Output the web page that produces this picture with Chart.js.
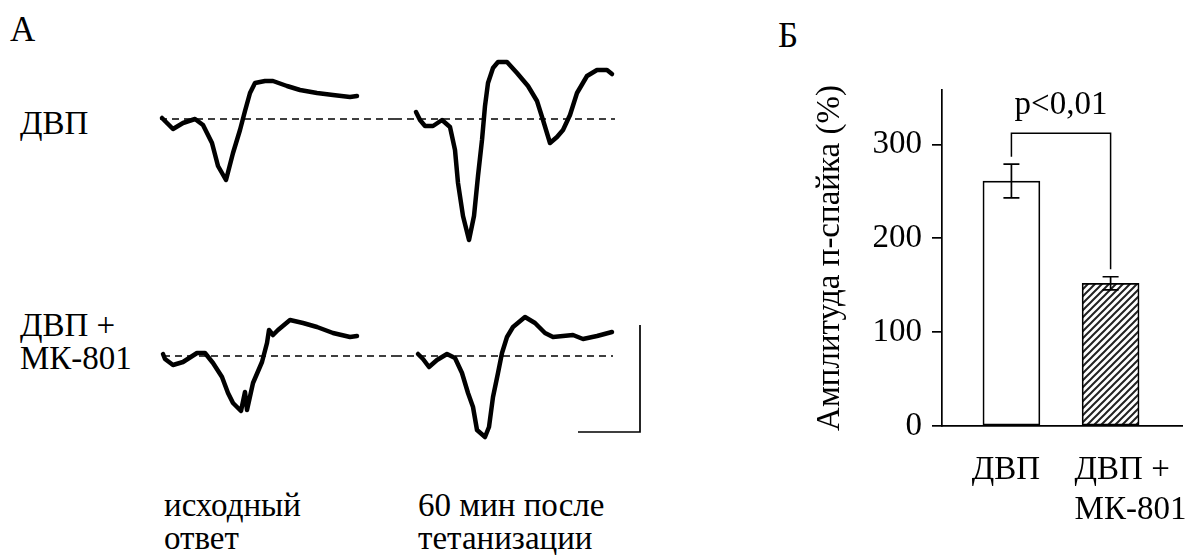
<!DOCTYPE html>
<html>
<head>
<meta charset="utf-8">
<script src="https://cdn.jsdelivr.net/npm/chart.js@4.4.1/dist/chart.umd.min.js"></script>
<style>
  body { margin: 0; width: 1194px; height: 555px; background: #fff; position: relative; overflow: hidden; font-family: "Liberation Serif", Tinos, "Times New Roman", "DejaVu Serif", "Noto Serif", serif; color: #000; }
  canvas { position: absolute; }
  .lbl { position: absolute; font-size: 33px; line-height: 33px; white-space: nowrap; }
  .panel { font-size: 35px; line-height: 35px; }
</style>
</head>
<body>
<div class="lbl panel" style="left:10px; top:12px">А</div>
<div class="lbl panel" style="left:778px; top:18px">Б</div>
<div class="lbl" style="left:20px; top:107px">ДВП</div>
<div class="lbl" style="left:20px; top:309px">ДВП +<br>МК-801</div>
<div class="lbl" style="left:164px; top:489px">исходный<br>ответ</div>
<div class="lbl" style="left:418px; top:489px">60 мин после<br>тетанизации</div>

<canvas id="trace1" width="245" height="220" style="left:150px; top:40px"></canvas>
<canvas id="trace2" width="260" height="220" style="left:395px; top:40px"></canvas>
<canvas id="trace3" width="245" height="220" style="left:150px; top:290px"></canvas>
<canvas id="trace4" width="260" height="220" style="left:395px; top:290px"></canvas>
<canvas id="bars" width="424" height="555" style="left:770px; top:0px"></canvas>

<script>
// --- panel A: field potentials (time in samples, amplitude relative to baseline) ---
const trace1Time = [12, 23, 33, 45, 53, 62, 68, 76, 83, 90, 95, 100, 105, 115, 123, 137, 150, 167, 183, 200, 207];
const trace1Amp  = [1, -10, -4, 0, -6, -24, -47, -61, -34, -11, 8, 26, 36, 38, 38, 33, 29, 26, 24, 22, 23];

const trace2Time = [21, 25, 30, 38, 47, 55, 60, 63, 68, 74, 79, 83, 87, 90, 93, 98, 103, 112, 122, 133, 142, 148, 155, 162, 168, 175, 182, 192, 202, 212, 217];
const trace2Amp  = [7, -1, -7, -7, -1, -8, -31, -64, -97, -121, -97, -57, -21, 13, 36, 51, 57, 57, 46, 33, 18, -1, -24, -18, -11, 4, 26, 43, 49, 49, 45];

const trace3Time = [13, 15, 23, 33, 47, 55, 63, 72, 78, 83, 91, 95, 97, 103, 112, 117, 119, 123, 128, 140, 153, 167, 183, 200, 207];
const trace3Amp  = [2, -3, -9, -6, 3, 3, -7, -21, -37, -47, -55, -36, -54, -27, -6, 13, 26, 21, 26, 36, 33, 29, 23, 19, 20];

const trace4Time = [23, 28, 34, 42, 52, 60, 67, 73, 78, 82, 90, 94, 98, 103, 107, 112, 118, 130, 140, 150, 158, 178, 188, 202, 217];
const trace4Amp  = [2, -3, -11, -4, 2, -2, -17, -37, -51, -74, -81, -71, -41, -17, 3, 19, 29, 39, 33, 23, 19, 21, 17, 20, 24];

// extent of the dashed baseline under each trace
const baseline1 = [10, 245];
const baseline2 = [0, 220];
const baseline3 = [13, 245];
const baseline4 = [0, 218];

// calibration bar next to the last trace
const scaleBarTime = [183, 245, 245];
const scaleBarAmp  = [-76, -76, 31];

// --- panel Б: population spike amplitude ---
const barCategories = ['ДВП', ['ДВП +', 'МК-801']];
const barMeans = [261, 152];
const barErrors = [18, 7];
const yTickValues = [0, 100, 200, 300];
const bracketLevels = [287, 312, 312, 167];
const significance = 'p<0,01';

const FONT = '"Liberation Serif", Tinos, "Times New Roman", "DejaVu Serif", "Noto Serif", serif';

function traceChart(id, time, amp, base, yMax, yMin, extra) {
  const canvas = document.getElementById(id);
  const datasets = [
    {
      data: base.map(t => ({ x: t, y: 0 })),
      borderColor: '#000', borderWidth: 1.3, borderDash: [7, 5], pointRadius: 0
    },
    {
      data: time.map((t, i) => ({ x: t, y: amp[i] })),
      borderColor: '#000', borderWidth: 4.5, pointRadius: 0,
      borderJoinStyle: 'round', borderCapStyle: 'round'
    }
  ];
  if (extra) datasets.push(extra);
  return new Chart(canvas, {
    type: 'line',
    data: { datasets },
    options: {
      responsive: false, animation: false, events: [],
      layout: { padding: 0 },
      plugins: { legend: { display: false }, tooltip: { enabled: false } },
      scales: {
        x: { type: 'linear', display: false, min: 0, max: canvas.width },
        y: { type: 'linear', display: false, min: yMin, max: yMax }
      }
    }
  });
}

traceChart('trace1', trace1Time, trace1Amp, baseline1, 79, -141);
traceChart('trace2', trace2Time, trace2Amp, baseline2, 79, -141);
traceChart('trace3', trace3Time, trace3Amp, baseline3, 66, -154);
traceChart('trace4', trace4Time, trace4Amp, baseline4, 66, -154, {
  data: scaleBarTime.map((t, i) => ({ x: t, y: scaleBarAmp[i] })),
  borderColor: '#000', borderWidth: 1.7, pointRadius: 0
});

// diagonal hatch for the second bar
const hatch = (() => {
  const c = document.createElement('canvas');
  c.width = 7; c.height = 7;
  const g = c.getContext('2d');
  g.fillStyle = '#fff';
  g.fillRect(0, 0, 7, 7);
  g.strokeStyle = '#222';
  g.lineWidth = 2;
  g.beginPath();
  g.moveTo(-1, 8); g.lineTo(8, -1);
  g.moveTo(-2, 2); g.lineTo(2, -2);
  g.moveTo(5, 9); g.lineTo(9, 5);
  g.stroke();
  return g.createPattern(c, 'repeat');
})();

// error bars and the significance label
const errorBars = {
  id: 'errorBars',
  afterDatasetsDraw(chart) {
    const { ctx, scales: { x, y } } = chart;
    ctx.save();
    ctx.strokeStyle = '#000';
    ctx.lineWidth = 1.7;
    barMeans.forEach((m, i) => {
      const px = x.getPixelForValue(i + 1);
      const top = y.getPixelForValue(m + barErrors[i]);
      const bot = y.getPixelForValue(m - barErrors[i]);
      ctx.beginPath();
      ctx.moveTo(px, top); ctx.lineTo(px, bot);
      ctx.moveTo(px - 8, top); ctx.lineTo(px + 8, top);
      ctx.moveTo(px - 8, bot); ctx.lineTo(px + 8, bot);
      ctx.stroke();
    });
    ctx.fillStyle = '#000';
    ctx.font = '33px ' + FONT;
    ctx.textAlign = 'center';
    ctx.textBaseline = 'alphabetic';
    const cx = (x.getPixelForValue(1) + x.getPixelForValue(2)) / 2;
    ctx.fillText(significance, cx, y.getPixelForValue(bracketLevels[1]) - 19);
    ctx.restore();
  }
};

new Chart(document.getElementById('bars'), {
  data: {
    datasets: [
      {
        type: 'bar',
        data: barMeans.map((v, i) => ({ x: i + 1, y: v })),
        backgroundColor: ['#fff', hatch],
        borderColor: '#000',
        borderWidth: 1.7,
        borderSkipped: false,
        barThickness: 57
      },
      {
        type: 'line',
        data: bracketLevels.map((v, i) => ({ x: i < 2 ? 1 : 2, y: v })),
        borderColor: '#000', borderWidth: 1.5, pointRadius: 0, fill: false
      }
    ]
  },
  options: {
    responsive: false, animation: false, events: [],
    layout: { padding: { top: 90, right: 12, left: 0, bottom: 0 } },
    plugins: { legend: { display: false }, tooltip: { enabled: false } },
    scales: {
      x: {
        type: 'linear', min: 0.3, max: 2.72, offset: false,
        afterFit: s => { s.height = 129; s.paddingLeft = 0; s.paddingRight = 0; },
        afterBuildTicks: s => { s.ticks = [{ value: 0.6 }, { value: 1.637 }]; },
        grid: { display: false, offset: false },
        border: { display: true, color: '#000', width: 1.7 },
        ticks: {
          align: 'start', maxRotation: 0, autoSkip: false, padding: 17,
          color: '#000', font: { family: FONT, size: 33 },
          callback: (v, i) => barCategories[i]
        }
      },
      y: {
        type: 'linear', min: 0, max: 358,
        afterFit: s => { s.width = 172; },
        afterBuildTicks: s => { s.ticks = yTickValues.map(v => ({ value: v })); },
        grid: { display: true, drawOnChartArea: false, tickLength: 10, color: '#000', lineWidth: 1.7 },
        border: { display: true, color: '#000', width: 1.7 },
        ticks: { padding: 10, color: '#000', font: { family: FONT, size: 33 } },
        title: {
          display: true, text: 'Амплитуда п-спайка (%)',
          color: '#000', font: { family: FONT, size: 33 },
          padding: { top: 41, bottom: 0 }
        }
      }
    }
  },
  plugins: [errorBars]
});
</script>
</body>
</html>
